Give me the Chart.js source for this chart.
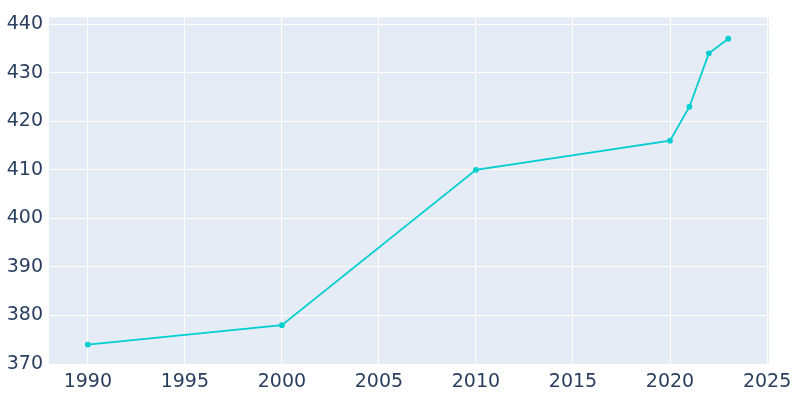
<!DOCTYPE html>
<html><head><meta charset="utf-8">
<script src="https://cdn.jsdelivr.net/npm/chart.js@4"></script>
<style>html,body{margin:0;padding:0;background:#fff}#w{width:800px;height:400px}</style>
</head><body><div id="w"><canvas id="c"></canvas></div>
<script>
const years = [1990, 2000, 2010, 2020, 2021, 2022, 2023];
const population = [374, 378, 410, 416, 423, 434, 437];
const xTicks = [1990, 1995, 2000, 2005, 2010, 2015, 2020, 2025];
const yTicks = [370, 380, 390, 400, 410, 420, 430, 440];

const bg = {id:'bg', beforeDraw(ch){const a=ch.chartArea,x=ch.ctx;x.save();x.fillStyle='#E5ECF6';x.fillRect(a.left,a.top,a.right-a.left,a.bottom-a.top);x.restore();}};
const font = {family:'DejaVu Sans', size:19};
new Chart(document.getElementById('c'), {
  type:'line',
  data:{datasets:[{data:years.map((y,i)=>({x:y,y:population[i]})),borderColor:'#00CED1',backgroundColor:'#00CED1',borderWidth:1.8,pointRadius:2,pointHoverRadius:2,tension:0}]},
  options:{responsive:true,maintainAspectRatio:false,animation:false,
    layout:{padding:{top:3,right:31,left:0,bottom:0}},
    plugins:{legend:{display:false},tooltip:{enabled:false}},
    scales:{
      x:{type:'linear',min:1988,max:2025.1,
        afterBuildTicks(s){s.ticks=xTicks.map(v=>({value:v}));},
        afterFit(s){s.height=35;},
        grid:{color:'#fff',lineWidth:1,drawTicks:false},border:{display:false},
        ticks:{font,color:'#2a3f5f',padding:6,maxRotation:0,callback:v=>String(v)}},
      y:{min:369.8,max:441.4,
        afterBuildTicks(s){s.ticks=yTicks.map(v=>({value:v}));},
        afterFit(s){s.width=49;},
        grid:{color:'#fff',lineWidth:1,drawTicks:false},border:{display:false},
        ticks:{font,color:'#2a3f5f',padding:6,callback:v=>String(v)}}
    }},
  plugins:[bg]
});
</script></body></html>
